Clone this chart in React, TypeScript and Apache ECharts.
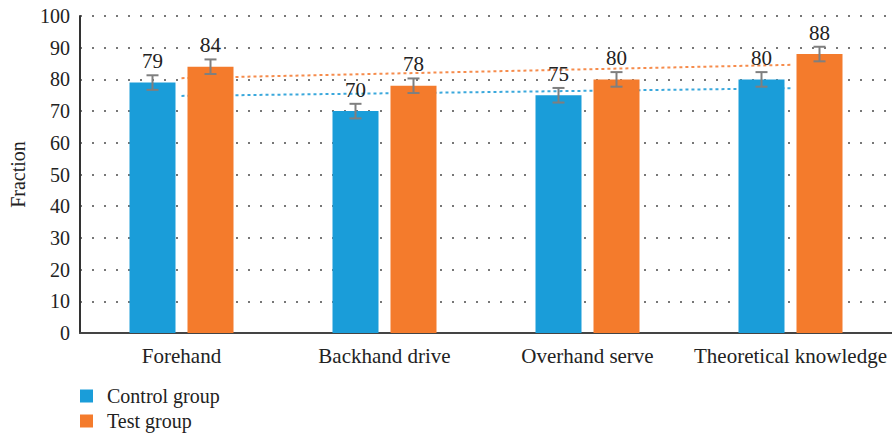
import React, { useEffect, useRef } from "react";
import * as echarts from "echarts";

const categories = ["Forehand", "Backhand drive", "Overhand serve", "Theoretical knowledge"];
const controlValues = [79, 70, 75, 80];
const testValues = [84, 78, 80, 88];
const controlErrors = [2.3, 2.3, 2.3, 2.3];
const testErrors = [2.3, 2.3, 2.3, 2.3];
const controlTrend = [74.8, 75.6, 76.4, 77.2];
const testTrend = [80.4, 81.8, 83.2, 84.6];
const yTicks = { min: 0, max: 100, interval: 10 };

const BLUE = "#1a9dd9";
const ORANGE = "#f47b2c";
const FONT = "Liberation Serif";
const BAR_W = 46;
const BAR_GAP = 12;

export default function App() {
  const ref = useRef<HTMLDivElement>(null);
  useEffect(() => {
    if (!ref.current) return;
    document.body.style.margin = "0";
    const chart = echarts.init(ref.current, null, { renderer: "svg" });
    const offset = (BAR_W + BAR_GAP) / 2;
    const errRender = (dir: number) => (params: any, api: any) => {
      const i = api.value(0);
      const v = api.value(1);
      const e = api.value(2);
      const c = api.coord([i, v]);
      const x = c[0] + dir * offset;
      const top = api.coord([i, v + e])[1];
      const bot = api.coord([i, v - e])[1];
      const st = { stroke: "#7f7f7f", lineWidth: 2 };
      return {
        type: "group",
        children: [
          { type: "line", shape: { x1: x, y1: top, x2: x, y2: bot }, style: st },
          { type: "line", shape: { x1: x - 6, y1: top, x2: x + 6, y2: top }, style: st },
          { type: "line", shape: { x1: x - 6, y1: bot, x2: x + 6, y2: bot }, style: st },
          {
            type: "text",
            style: {
              text: String(v),
              x: x,
              y: top - 14,
              align: "center",
              verticalAlign: "middle",
              fontFamily: FONT,
              fontSize: 21,
              fill: "#222",
            },
          },
        ],
      };
    };
    chart.setOption({
      animation: false,
      grid: { left: 80, right: 0, top: 16, bottom: 103, containLabel: false },
      legend: {
        data: ["Control group", "Test group"],
        orient: "vertical",
        left: 80,
        top: 386,
        height: 50,
        padding: 0,
        itemWidth: 13,
        itemHeight: 13,
        itemGap: 5,
        icon: "rect",
        textStyle: { fontFamily: FONT, fontSize: 20, lineHeight: 20, color: "#222", padding: [0, 0, 0, 9] },
      },
      xAxis: {
        type: "category",
        data: categories,
        axisLine: { lineStyle: { color: "#444", width: 2 } },
        axisTick: { show: false },
        axisLabel: { interval: 0, fontFamily: FONT, fontSize: 21, color: "#222", margin: 12 },
      },
      yAxis: {
        type: "value",
        min: yTicks.min,
        max: yTicks.max,
        interval: yTicks.interval,
        name: "Fraction",
        nameLocation: "middle",
        nameGap: 52,
        nameTextStyle: { fontFamily: FONT, fontSize: 20, color: "#222" },
        axisLine: { show: true, lineStyle: { color: "#333", width: 2 } },
        axisTick: { show: false },
        axisLabel: { fontFamily: FONT, fontSize: 20, color: "#222", margin: 10 },
        splitLine: { lineStyle: { color: "#777", width: 2, type: [2, 10] } },
      },
      series: [
        {
          name: "Control trend",
          type: "line",
          data: controlTrend,
          symbol: "none",
          z: 1,
          lineStyle: { color: "#3aa8dc", width: 2, type: [3, 3] },
        },
        {
          name: "Test trend",
          type: "line",
          data: testTrend,
          symbol: "none",
          z: 1,
          lineStyle: { color: "#f68c4c", width: 2, type: [3, 3] },
        },
        {
          name: "Control group",
          type: "bar",
          data: controlValues,
          barWidth: BAR_W,
          barGap: `${(BAR_GAP / BAR_W) * 100}%`,
          itemStyle: { color: BLUE },
          z: 2,
        },
        {
          name: "Test group",
          type: "bar",
          data: testValues,
          barWidth: BAR_W,
          itemStyle: { color: ORANGE },
          z: 2,
        },
        {
          type: "custom",
          renderItem: errRender(-1),
          data: controlValues.map((v, i) => [i, v, controlErrors[i]]),
          z: 3,
        },
        {
          type: "custom",
          renderItem: errRender(1),
          data: testValues.map((v, i) => [i, v, testErrors[i]]),
          z: 3,
        },
      ],
    });
    return () => chart.dispose();
  }, []);
  return <div ref={ref} style={{ width: 892, height: 436 }} />;
}
